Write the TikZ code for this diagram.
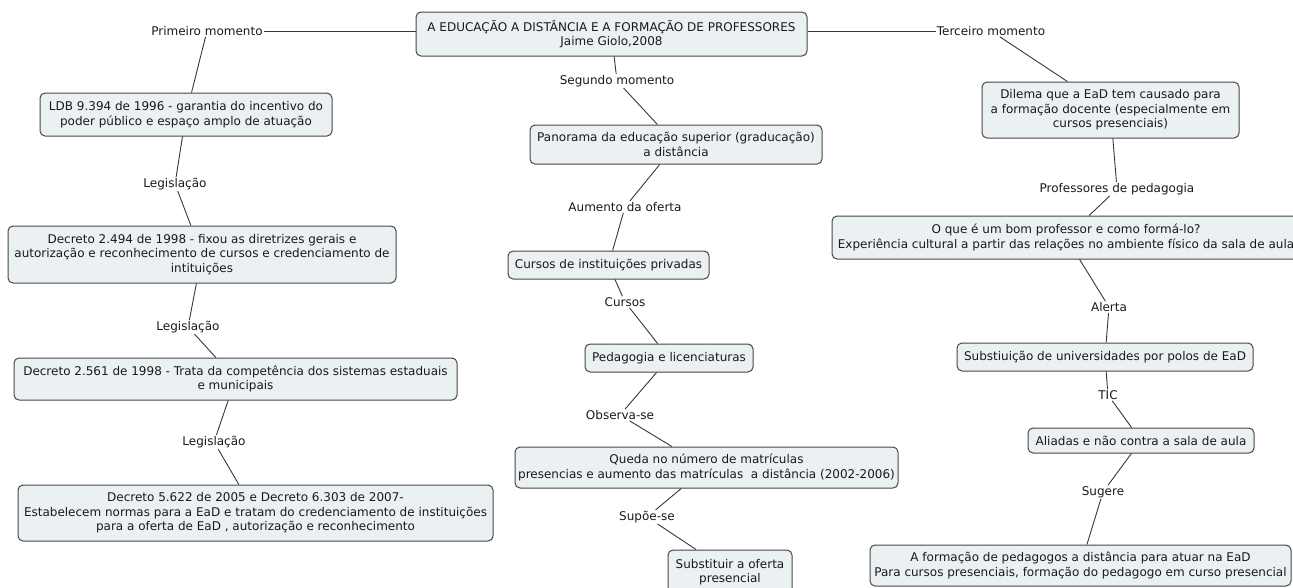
\documentclass[tikz,border=0pt]{standalone}
\usepackage{fontspec}
\setmainfont{DejaVu Sans}
\definecolor{boxfill}{RGB}{235,241,243}
\definecolor{boxline}{RGB}{70,70,70}
\definecolor{lineclr}{RGB}{55,55,55}
\definecolor{ink}{RGB}{25,25,25}
\tikzset{
  concept/.style={draw=boxline, line width=1pt, fill=boxfill, rounded corners=5pt,
    align=center, inner sep=0pt, text=ink, font=\fontsize{12}{14.6}\selectfont},
  linklabel/.style={inner sep=1pt, text=ink, font=\fontsize{12}{14.6}\selectfont},
  conn/.style={draw=lineclr, line width=0.9pt}
}
\begin{document}
\begin{tikzpicture}[x=1pt,y=-1pt]
\useasboundingbox (0,0) rectangle (1293,587);
\clip (0,0) rectangle (1293,587);

% central concept
\node[concept, minimum width=391, minimum height=44] (root) at (611.5,34)
  {A EDUCAÇÃO A DISTÂNCIA E A FORMAÇÃO DE PROFESSORES\\Jaime Giolo,2008};

% linking phrases of the three branches
\node[linklabel] (p1) at (207,31) {Primeiro momento};
\node[linklabel] (p2) at (617,81) {Segundo momento};
\node[linklabel] (p3) at (991,31) {Terceiro momento};

% first branch: legislation
\node[concept, minimum width=292, minimum height=43] (ldb) at (186,114.5)
  {LDB 9.394 de 1996 - garantia do incentivo do\\poder público e espaço amplo de atuação};
\node[linklabel] (leg1) at (175,184) {Legislação};
\node[concept, minimum width=388, minimum height=57] (d2494) at (202,254.5)
  {Decreto 2.494 de 1998 - fixou as diretrizes gerais e\\autorização e reconhecimento de cursos e credenciamento de\\intituições};
\node[linklabel] (leg2) at (188,327) {Legislação};
\node[concept, minimum width=443, minimum height=42] (d2561) at (235.5,379)
  {Decreto 2.561 de 1998 - Trata da competência dos sistemas estaduais\\e municipais};
\node[linklabel] (leg3) at (214,442) {Legislação};
\node[concept, minimum width=475, minimum height=56] (d5622) at (255.5,513)
  {Decreto 5.622 de 2005 e Decreto 6.303 de 2007-\\Estabelecem normas para a EaD e tratam do credenciamento de instituições\\para a oferta de EaD , autorização e reconhecimento};

% second branch: overview
\node[concept, minimum width=292, minimum height=39] (pan) at (676,144.5)
  {Panorama da educação superior (graducação)\\a distância};
\node[linklabel] (aum) at (625,207) {Aumento da oferta};
\node[concept, minimum width=201, minimum height=28] (cur) at (608.5,265)
  {Cursos de instituições privadas};
\node[linklabel] (lcur) at (625,302) {Cursos};
\node[concept, minimum width=168, minimum height=28] (ped) at (669,358)
  {Pedagogia e licenciaturas};
\node[linklabel] (obs) at (620,415) {Observa-se};
\node[concept, minimum width=383, minimum height=41] (que) at (706.5,467.5)
  {Queda no número de matrículas\\presencias e aumento das matrículas\ \ a distância (2002-2006)};
\node[linklabel] (sup) at (647,517) {Supõe-se};
\node[concept, minimum width=124, minimum height=44] (subs) at (730,572)
  {Substituir a oferta\\presencial};

% third branch: teacher education
\node[concept, minimum width=257, minimum height=56] (dil) at (1110.5,110)
  {Dilema que a EaD tem causado para\\a formação docente (especialmente em\\cursos presenciais)};
\node[linklabel] (prof) at (1117,189) {Professores de pedagogia};
\node[concept, minimum width=468, minimum height=43] (oque) at (1066,237.5)
  {O que é um bom professor e como formá-lo?\\Experiência cultural a partir das relações no ambiente físico da sala de aula};
\node[linklabel] (ale) at (1109,307) {Alerta};
\node[concept, minimum width=296, minimum height=28] (subu) at (1105,357)
  {Substiuição de universidades por polos de EaD};
\node[linklabel] (tic) at (1108,395) {TIC};
\node[concept, minimum width=226, minimum height=25] (ali) at (1141,440.5)
  {Aliadas e não contra a sala de aula};
\node[linklabel] (sug) at (1103,492) {Sugere};
\node[concept, minimum width=421, minimum height=41] (form) at (1080.5,565.5)
  {A formação de pedagogos a distância para atuar na EaD\\Para cursos presenciais, formação do pedagogo em curso presencial};

% connectors
\draw[conn] (p1.east) -- (p1.east -| root.west);
\draw[conn] (root.east |- p3.west) -- (p3.west);
\draw[conn] (root) -- (p2);

\draw[conn] (p1) -- (ldb);
\draw[conn] (ldb) -- (leg1);
\draw[conn] (leg1) -- (d2494);
\draw[conn] (d2494) -- (leg2);
\draw[conn] (leg2) -- (d2561);
\draw[conn] (d2561) -- (leg3);
\draw[conn] (leg3) -- (d5622);

\draw[conn] (p2) -- (pan);
\draw[conn] (pan) -- (aum);
\draw[conn] (aum) -- (cur);
\draw[conn] (cur) -- (lcur);
\draw[conn] (lcur) -- (ped);
\draw[conn] (ped) -- (obs);
\draw[conn] (obs) -- (que);
\draw[conn] (que) -- (sup);
\draw[conn] (sup) -- (subs);

\draw[conn] (p3) -- (dil);
\draw[conn] (dil) -- (prof);
\draw[conn] (prof) -- (oque);
\draw[conn] (oque) -- (ale);
\draw[conn] (ale) -- (subu);
\draw[conn] (subu) -- (tic);
\draw[conn] (tic) -- (ali);
\draw[conn] (ali) -- (sug);
\draw[conn] (sug) -- (form);
\end{tikzpicture}
\end{document}
